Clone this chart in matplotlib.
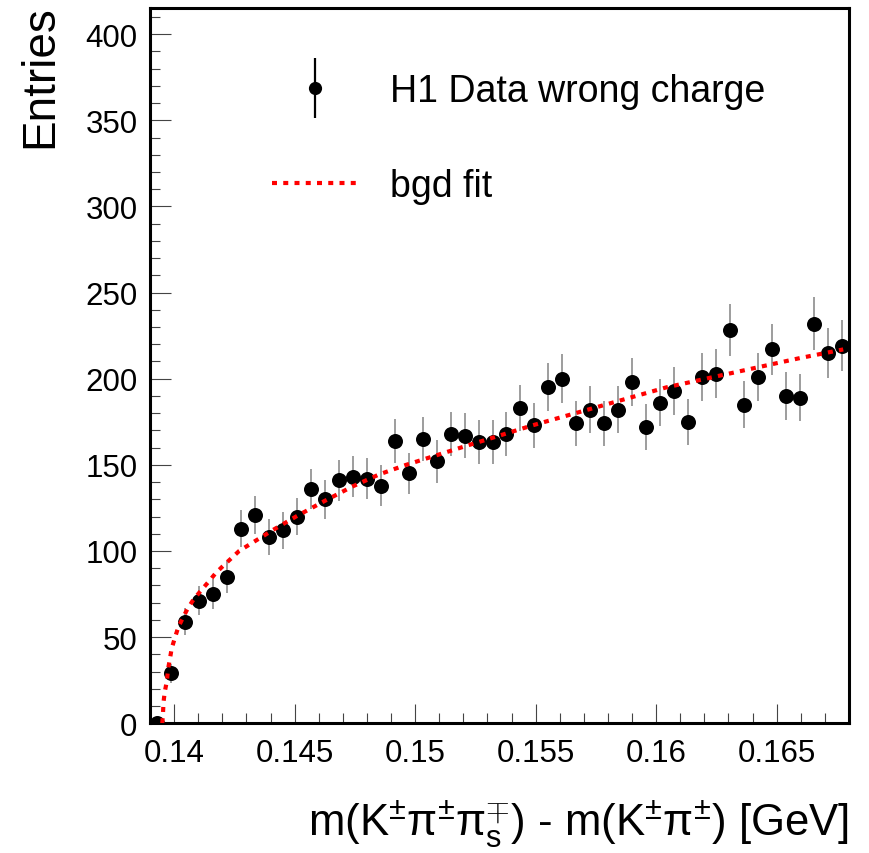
import numpy as np
import matplotlib
matplotlib.use("Agg")
import matplotlib.pyplot as plt
from matplotlib.ticker import MultipleLocator
from matplotlib.legend_handler import HandlerErrorbar

plt.rcParams['font.family'] = ['Liberation Sans', 'DejaVu Sans']
plt.rcParams['mathtext.fontset'] = 'custom'
plt.rcParams['mathtext.rm'] = 'Liberation Sans'
plt.rcParams['mathtext.it'] = 'Liberation Sans'
plt.rcParams['mathtext.default'] = 'rm'

# histogram binning (50 bins between 0.139 and 0.168 GeV)
x_lo, x_hi, n_bins = 0.139, 0.168, 50
bin_edges = np.linspace(x_lo, x_hi, n_bins + 1)
bin_centers = 0.5 * (bin_edges[:-1] + bin_edges[1:])

# wrong-charge entries per bin
counts = np.array([0, 29, 59, 71, 75, 85, 113, 121, 108, 112,
                   120, 136, 130, 141, 143, 142, 138, 164, 145, 165,
                   152, 168, 167, 163, 163, 168, 183, 173, 195, 200,
                   174, 182, 174, 182, 198, 172, 186, 193, 175, 201,
                   203, 228, 185, 201, 217, 190, 189, 232, 215, 219])
errors = np.sqrt(counts)

# background fit curve, sampled from the plot
fit_x = [0.13951, 0.13954, 0.13956, 0.13961, 0.13970, 0.13975, 0.13983,
         0.13990, 0.14003, 0.14017, 0.14035, 0.14055, 0.14080, 0.14111,
         0.14143, 0.14173, 0.14201, 0.14270, 0.14408, 0.14506, 0.14624,
         0.14741, 0.14852, 0.14963, 0.15212, 0.15489, 0.15766, 0.16043,
         0.16320, 0.16597, 0.16776]
fit_y = [0, 5.8, 12, 18, 24.4, 31.4, 37.6,
         43.4, 49.4, 55.6, 60.8, 66.2, 71.7, 76.9,
         82.1, 87.2, 91, 100, 112, 120, 129,
         137.5, 144.5, 150, 161, 173, 184, 195,
         203.5, 212, 217]

fig = plt.figure(figsize=(8.69, 8.54), dpi=100)
ax = fig.add_axes([0.1726, 0.152, 0.8044, 0.837])

ax.errorbar(bin_centers, counts, yerr=errors, fmt='o', color='black',
            ms=10.8, mec='none', ecolor='#8c8c8c', elinewidth=1.2,
            capsize=0, zorder=3)
fit_line, = ax.plot(fit_x, fit_y, color='red', lw=3.0,
                    linestyle=(0, (1.2, 1.5)), zorder=4)

# legend proxy for the data (black bar, smaller marker)
data_proxy = ax.errorbar([np.nan], [np.nan], yerr=[1], fmt='o', color='black',
                         ms=9.5, mec='none', ecolor='black', elinewidth=1.6,
                         capsize=0)

ax.set_xlim(x_lo, x_hi)
ax.set_ylim(0, 415)

ax.xaxis.set_major_locator(MultipleLocator(0.005))
ax.xaxis.set_minor_locator(MultipleLocator(0.001))
ax.yaxis.set_major_locator(MultipleLocator(50))
ax.yaxis.set_minor_locator(MultipleLocator(10))
ax.set_xticks([0.14, 0.145, 0.15, 0.155, 0.16, 0.165])
ax.set_xticklabels(['0.14', '0.145', '0.15', '0.155', '0.16', '0.165'])

ax.tick_params(which='both', direction='in', top=False, right=False,
               color='#444444', width=0.8, labelsize=22.5)
ax.tick_params(axis='y', which='major', length=15, pad=9)
ax.tick_params(axis='y', which='minor', length=7.5)
ax.tick_params(axis='x', which='major', length=14, pad=11)
ax.tick_params(axis='x', which='minor', length=7)

for sp in ax.spines.values():
    sp.set_linewidth(2.2)

ax.set_ylabel('Entries', loc='top', fontsize=33)
ax.yaxis.set_label_coords(-0.125, 1.006)
ax.set_xlabel(r'm(K$^{\pm}\pi^{\pm}\pi^{\mp}_{s}$) - m(K$^{\pm}\pi^{\pm}$) [GeV]',
              loc='right', fontsize=31.5)
ax.xaxis.set_label_coords(1.0, -0.104)

ax.legend([data_proxy, fit_line], ['H1 Data wrong charge', 'bgd fit'],
          loc='upper left', bbox_to_anchor=(0.1745, 0.91), frameon=False,
          fontsize=27, borderpad=0, borderaxespad=0, handlelength=2.27,
          handletextpad=0.88, labelspacing=1.58,
          handler_map={type(data_proxy): HandlerErrorbar(yerr_size=0.8)})

fig.savefig('out.png', dpi=100)
